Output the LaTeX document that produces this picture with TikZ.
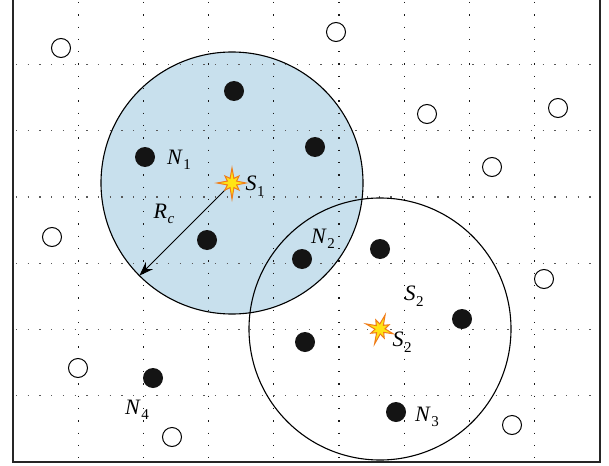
\documentclass[tikz,border=0pt]{standalone}
\usepackage{fontspec}
\newfontfamily\labfont{Liberation Serif}
\usetikzlibrary{arrows.meta}
\definecolor{zoneblue}{RGB}{200,224,237}
\definecolor{staryellow}{RGB}{255,228,20}
\definecolor{starorange}{RGB}{240,125,25}
\newcommand\sublab[2]{\textit{#1}\kern0.5pt\raisebox{-5.5pt}{\fontsize{15}{15}\selectfont #2}}
\begin{document}
\begin{tikzpicture}[x=1pt,y=-1pt,
  hgrid/.style={black!65,line width=1.3pt,dash pattern=on 1.3pt off 10.4pt},
  vgrid/.style={black!90,line width=1.3pt,dash pattern=on 1.3pt off 11pt},
  zone/.style={black,line width=1.1pt},
  sensor/.style={circle,fill=black!92,minimum size=20pt,inner sep=0pt},
  idle/.style={circle,draw=black,line width=1pt,fill=white,minimum size=19pt,inner sep=0pt},
  lbl/.style={inner sep=0pt,font=\labfont\fontsize{22}{26}\selectfont},
  starsty/.style={fill=staryellow,draw=starorange,line width=1pt,line join=miter}]
\useasboundingbox (0,0) rectangle (609,465);
\clip (0,0) rectangle (609,465);
\fill[white] (0,0) rectangle (609,465);
% coverage zones
\coordinate (C1) at (232,183);
\coordinate (C2) at (380,329);
\fill[zoneblue] (C1) circle[radius=131];
% grid
\foreach \gx in {78.2,143.4,208.6,273.8,339,404.2,469.4,534.6}
  \draw[vgrid] (\gx,2) -- (\gx,462);
\foreach \gy in {64.3,130.6,196.9,263.2,329.5,395.8}
  \draw[hgrid] (16,\gy) -- (598,\gy);
\draw[zone] (C1) circle[radius=131];
\draw[zone] (C2) circle[radius=131];
% frame
\draw[black!85,line width=1.6pt] (13,-5) rectangle (600,462);
% sensors (active)
\node[sensor] (a1) at (234,91) {};
\node[sensor] (n1) at (145,157) {};
\node[sensor] (a2) at (315,147) {};
\node[sensor] (a3) at (207,240) {};
\node[sensor] (n2) at (302,259) {};
\node[sensor] (a4) at (380,249) {};
\node[sensor] (a5) at (462,319) {};
\node[sensor] (a6) at (305,342) {};
\node[sensor] (n3) at (396,412) {};
\node[sensor] (n4) at (153,378) {};
% idle nodes
\node[idle] (o1) at (61,48) {};
\node[idle] (o2) at (336,32) {};
\node[idle] (o3) at (427,114) {};
\node[idle] (o4) at (558,108) {};
\node[idle] (o5) at (492,167) {};
\node[idle] (o6) at (52,237) {};
\node[idle] (o7) at (544,279) {};
\node[idle] (o8) at (78,368) {};
\node[idle] (o9) at (172,437) {};
\node[idle] (o10) at (512,425) {};
% radius arrow
\coordinate (rtip) at (139.4,275.6);
\draw[line width=1pt,-{Stealth[length=14pt,width=10pt]}] (C1) -- (rtip);
% stars
\filldraw[starsty,shift={(C1)}] (90:16) -- (112.5:5) -- (135:10) -- (157.5:5) -- (180:15) -- (202.5:5) -- (225:10) -- (247.5:5) -- (270:15) -- (292.5:5) -- (315:10) -- (337.5:5) -- (0:14) -- (22.5:5) -- (45:10) -- (67.5:5) -- cycle;
\filldraw[starsty,shift={(C2)},rotate=-20] (90:16) -- (112.5:5) -- (135:10) -- (157.5:5) -- (180:15) -- (202.5:5) -- (225:10) -- (247.5:5) -- (270:15) -- (292.5:5) -- (315:10) -- (337.5:5) -- (0:14) -- (22.5:5) -- (45:10) -- (67.5:5) -- cycle;
% labels
\node[lbl] (ln1) at (179,160) {\sublab{N}{1}};
\node[lbl] (ls1) at (255,186) {\sublab{S}{1}};
\node[lbl] (lrc) at (164,214) {\sublab{R}{\textit{c}}};
\node[lbl] (ln2) at (323,239) {\sublab{N}{2}};
\node[lbl] (ls2a) at (414,296) {\sublab{S}{2}};
\node[lbl] (ls2b) at (402,342) {\sublab{S}{2}};
\node[lbl] (ln3) at (427,417) {\sublab{N}{3}};
\node[lbl] (ln4) at (137,410) {\sublab{N}{4}};
\end{tikzpicture}
\end{document}
